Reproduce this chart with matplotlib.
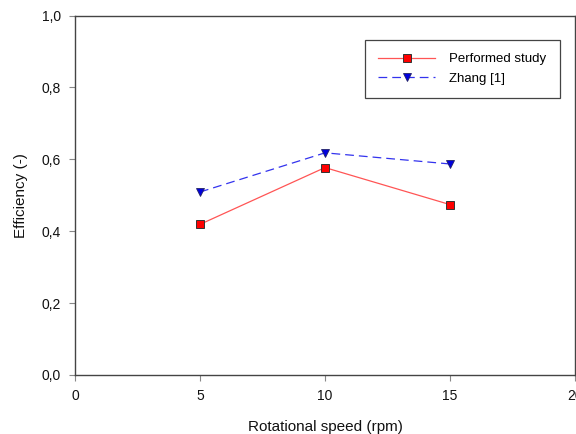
import matplotlib
matplotlib.use("Agg")
import matplotlib.pyplot as plt
from matplotlib.ticker import FixedLocator, FuncFormatter

plt.rcParams['font.family'] = ['Liberation Sans', 'DejaVu Sans']

speed = [5, 10, 15]
performed = [0.419, 0.577, 0.474]
zhang = [0.509, 0.618, 0.587]
xticks = [0, 5, 10, 15, 20]
yticks = [0.0, 0.2, 0.4, 0.6, 0.8, 1.0]

fig = plt.figure(figsize=(5.76, 4.34), dpi=100)
ax = fig.add_axes([75/576, 59/434, 500/576, 359.5/434])

ax.plot(speed, performed, color='#ff5555', lw=0.9, marker='s', markersize=5.8,
        markerfacecolor='#ff0000', markeredgecolor='#333333', markeredgewidth=0.7,
        label='Performed study', zorder=3)
ax.plot(speed, zhang, color='#3333ee', lw=0.9, dashes=(7, 4), marker='v', markersize=6.3,
        markerfacecolor='#0000dd', markeredgecolor='#222266', markeredgewidth=0.6,
        label='Zhang [1]', zorder=3)

ax.set_xlim(0, 20)
ax.set_ylim(0, 1.0)
ax.xaxis.set_major_locator(FixedLocator(xticks))
ax.yaxis.set_major_locator(FixedLocator(yticks))
ax.yaxis.set_major_formatter(FuncFormatter(lambda v, p: f"{v:.1f}".replace('.', ',')))
ax.xaxis.set_major_formatter(FuncFormatter(lambda v, p: f"{v:g}"))
ax.tick_params(direction='out', length=4, width=0.8, color='#888888', labelsize=10,
               labelcolor='#111111', pad=6)
for s in ax.spines.values():
    s.set_color('#444444')
    s.set_linewidth(1.0)

ax.set_xlabel('Rotational speed (rpm)', fontsize=11, labelpad=12, color='#111111')
ax.set_ylabel('Efficiency (-)', fontsize=11, labelpad=10, color='#111111')

leg = ax.legend(loc='upper left', bbox_to_anchor=((365-75)/500, (375-40)/359.5),
                borderaxespad=0, fancybox=False, edgecolor='#444444', framealpha=1,
                fontsize=9.5, handlelength=4.3, handletextpad=1.1, labelspacing=0.55,
                borderpad=1.0)
leg.get_frame().set_linewidth(0.9)

fig.savefig('out.png', dpi=100)
